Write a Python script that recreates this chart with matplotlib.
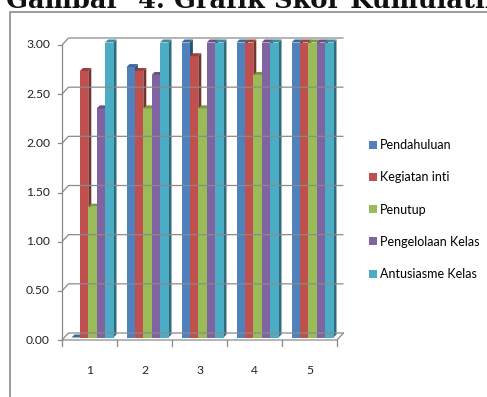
import matplotlib.pyplot as plt
from matplotlib.patches import Polygon, Rectangle, Patch
from matplotlib.colors import to_rgb

# Skor per aspek untuk pertemuan 1-5
categories = ["1", "2", "3", "4", "5"]
series_names = ["Pendahuluan", "Kegiatan inti", "Penutup",
                "Pengelolaan Kelas", "Antusiasme Kelas"]
pendahuluan = [0.00, 2.75, 3.00, 3.00, 3.00]
kegiatan_inti = [2.71, 2.71, 2.86, 3.00, 3.00]
penutup = [1.33, 2.33, 2.33, 2.67, 3.00]
pengelolaan_kelas = [2.33, 2.67, 3.00, 3.00, 3.00]
antusiasme_kelas = [3.00, 3.00, 3.00, 3.00, 3.00]
y_ticks = [0.0, 0.5, 1.0, 1.5, 2.0, 2.5, 3.0]

series = [pendahuluan, kegiatan_inti, penutup, pengelolaan_kelas, antusiasme_kelas]
colors = ["#4f81bd", "#c0504d", "#9bbb59", "#8064a2", "#4bacc6"]

W, H = 487, 397
fig = plt.figure(figsize=(W / 100, H / 100), dpi=100)

# outer chart frame (runs past the right and bottom edge)
fig.add_artist(Rectangle((10 / W, -0.1), 1.2, 1 - 12 / H + 0.1,
                         transform=fig.transFigure, fill=False,
                         edgecolor="#8a8a8a", linewidth=1.2))

fig.text(6 / W, 1 - 8 / H, "Gambar  4. Grafik Skor Kumulatif",
         family="DejaVu Serif", weight="bold", fontsize=18.5,
         ha="left", va="baseline", color="#111111")

ax_w, ax_h = 275, 295
ax = fig.add_axes([62 / W, (H - 340) / H, ax_w / W, ax_h / H])
ax.set_xlim(0, len(categories))
ax.set_ylim(0, 3)
ax.axis("off")

# pixel -> data unit conversion
ux = len(categories) / ax_w
uy = 3 / ax_h

grid_c = "#8a8a8a"
lw = 0.9
DX, DY = 6.5 * ux, 7 * uy      # depth of walls / floor
n = len(categories)

# back wall gridlines and side wall slants
for v in y_ticks:
    ax.plot([0, DX, n + DX], [v, v + DY, v + DY], color=grid_c, lw=lw,
            clip_on=False, solid_capstyle="butt")
    ax.plot([-4 * ux, 0], [v, v], color=grid_c, lw=lw, clip_on=False)
    ax.text(-12 * ux, v, f"{v:.2f}", ha="right", va="center",
            family="Lato", fontsize=8.7, color="#222222")

# front axes and floor
ax.plot([0, 0], [0, 3], color=grid_c, lw=lw, clip_on=False)
ax.plot([0, n, n + DX], [0, 0, DY], color=grid_c, lw=lw, clip_on=False)
for i in range(n + 1):
    ax.plot([i, i], [0, -6 * uy], color=grid_c, lw=lw, clip_on=False)
for i, lab in enumerate(categories):
    ax.text(i + 0.5, -30 * uy, lab, ha="center", va="center",
            family="Lato", fontsize=8.7, color="#222222")


def shade(c, f):
    r, g, b = to_rgb(c)
    return (r * f, g * f, b * f)


SX, SY = 2.5 * ux, 2.5 * uy    # bar position inside the depth
BX, BY = 3 * ux, 3 * uy        # bar depth
gap = 7 / 55
bw = 8.4 / 55

for i in range(n):
    for j, vals in enumerate(series):
        v = vals[i]
        c = colors[j]
        x0 = i + gap + j * bw + SX
        x1 = x0 + bw
        y0 = SY
        y1 = SY + v
        # right side
        side = Polygon([(x1, y0), (x1 + BX, y0 + BY), (x1 + BX, y1 + BY), (x1, y1)],
                       closed=True, facecolor=shade(c, 0.62), edgecolor="none",
                       clip_on=False)
        ax.add_patch(side)
        # front face
        if v > 0:
            ax.add_patch(Rectangle((x0, y0), bw, v, facecolor=c,
                                   edgecolor="none", clip_on=False))
        # top face
        top = Polygon([(x0, y1), (x1, y1), (x1 + BX, y1 + BY), (x0 + BX, y1 + BY)],
                      closed=True, facecolor=shade(c, 0.8), edgecolor="none",
                      clip_on=False)
        ax.add_patch(top)

handles = [Patch(facecolor=c, edgecolor="none") for c in colors]
fig.legend(handles, series_names, loc="upper left",
           bbox_to_anchor=(364 / W, 1 - 134 / H), frameon=False,
           prop={"family": "Lato", "size": 9},
           handlelength=0.6, handleheight=0.6, handletextpad=0.3,
           labelspacing=1.62, borderaxespad=0)

fig.savefig("out.png", dpi=100)
